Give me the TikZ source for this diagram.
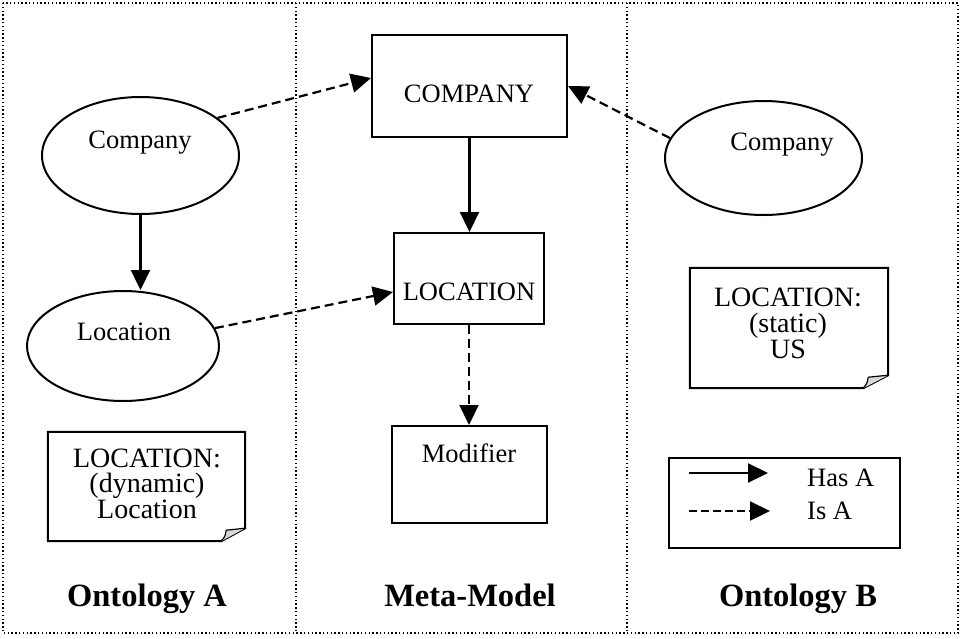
\documentclass[tikz,border=0pt]{standalone}
\usepackage{fontspec}
\setmainfont{Liberation Serif}
\usetikzlibrary{arrows.meta,shapes.geometric,calc}

\begin{document}
\begin{tikzpicture}[x=1pt,y=-1pt,
  shapeline/.style={draw=black, line width=2pt},
  oval/.style={shapeline, ellipse, inner sep=0pt},
  boxnode/.style={shapeline, rectangle, inner sep=0pt},
  hidden/.style={draw=none, rectangle, inner sep=0pt},
  lbl/.style={anchor=base, inner sep=0pt, font=\fontsize{26.5pt}{23.5pt}\selectfont},
  notelbl/.style={lbl, font=\fontsize{28pt}{26pt}\selectfont},
  paneltitle/.style={anchor=base, inner sep=0pt, font=\fontsize{32.5pt}{34pt}\selectfont\bfseries},
  hasa/.style={line width=2.2pt, -{Triangle[length=20pt,width=19pt]}},
  isa/.style={hasa, dash pattern=on 9pt off 5pt},
  panel/.style={line width=1.3pt, dash pattern=on 1.4pt off 2.4pt},
  flap/.style={line width=1.2pt, fill=gray!30, line join=round},
]
\useasboundingbox (0,0) rectangle (961,638);

% panel frame and dividers
\draw[panel] (3,3) rectangle (958,633);
\draw[panel] (296,3) -- (296,633);
\draw[panel] (627,3) -- (627,633);

% ---------- Ontology A ----------
\node[oval, minimum width=197pt, minimum height=117pt] (compA) at (140.5,155.5) {};
\node[lbl] (compAtxt) at (140,148) {Company};
\node[oval, minimum width=192pt, minimum height=110pt] (locA) at (123,346) {};
\node[lbl] (locAtxt) at (124,340) {Location};
\draw[hasa] (compA.south) -- (compA.south |- locA.north);

\node[hidden, minimum width=197pt, minimum height=109pt] (noteA) at (146.5,486.5) {};
\draw[shapeline, line join=miter] (noteA.north west) -- (noteA.north east)
  -- ($(noteA.south east)+(0,-13)$) -- ($(noteA.south east)+(-24,0)$)
  -- (noteA.south west) -- cycle;
\draw[flap] ($(noteA.south east)+(-24,0)$) .. controls ($(noteA.south east)+(-20,-5)$) ..
  ($(noteA.south east)+(-19,-11)$) -- ($(noteA.south east)+(0,-13)$);
\node[notelbl] (noteA1) at (147,467) {LOCATION:};
\node[notelbl] (noteA2) at (147,492.5) {(dynamic)};
\node[notelbl] (noteA3) at (147,518) {Location};

\node[paneltitle] (titleA) at (147,606) {Ontology A};

% ---------- Meta-Model ----------
\node[boxnode, minimum width=195pt, minimum height=102pt] (cmpM) at (469.5,86) {};
\node[lbl] (cmpMtxt) at (469,102) {COMPANY};
\node[boxnode, minimum width=150pt, minimum height=91pt] (locM) at (469,278.5) {};
\node[lbl] (locMtxt) at (469,300) {LOCATION};
\node[boxnode, minimum width=155pt, minimum height=97pt] (modM) at (469.5,474.5) {};
\node[lbl] (modMtxt) at (469,462) {Modifier};

\draw[hasa] (cmpM.south) -- (cmpM.south |- locM.north);
\draw[isa] (locM.south) -- (locM.south |- modM.north);

\node[paneltitle] (titleM) at (470,606) {Meta-Model};

% ---------- Ontology B ----------
\node[oval, minimum width=197pt, minimum height=114pt] (compB) at (763.5,158) {};
\node[lbl] (compBtxt) at (782,150) {Company};

\node[hidden, minimum width=198pt, minimum height=120pt] (noteB) at (789,328) {};
\draw[shapeline, line join=miter] (noteB.north west) -- (noteB.north east)
  -- ($(noteB.south east)+(0,-13)$) -- ($(noteB.south east)+(-25,0)$)
  -- (noteB.south west) -- cycle;
\draw[flap] ($(noteB.south east)+(-25,0)$) .. controls ($(noteB.south east)+(-21,-5)$) ..
  ($(noteB.south east)+(-20,-11)$) -- ($(noteB.south east)+(0,-13)$);
\node[notelbl] (noteB1) at (788,306) {LOCATION:};
\node[notelbl] (noteB2) at (788,332) {(static)};
\node[notelbl] (noteB3) at (788,358) {US};

% legend
\node[boxnode, minimum width=231pt, minimum height=90pt] (legend) at (784.5,503) {};
\coordinate (hasFrom) at (689,473);
\coordinate (hasTo) at (768,473);
\coordinate (isFrom) at (689,511);
\coordinate (isTo) at (770,511);
\draw[hasa] (hasFrom) -- (hasTo);
\draw[isa, dash pattern=on 8pt off 4pt] (isFrom) -- (isTo);
\node[lbl, anchor=base west] (hasLbl) at (807,486) {Has A};
\node[lbl, anchor=base west] (isLbl) at (807,519) {Is A};

\node[paneltitle] (titleB) at (798,606) {Ontology B};

% ---------- Is-A links into the meta-model ----------
\draw[isa] (compA.26) -- ([yshift=8pt]cmpM.west);
\draw[isa] (locA.11) -- ([yshift=-13.5pt]locM.west);
\draw[isa] (compB.168) -- (cmpM.east);
\end{tikzpicture}
\end{document}
